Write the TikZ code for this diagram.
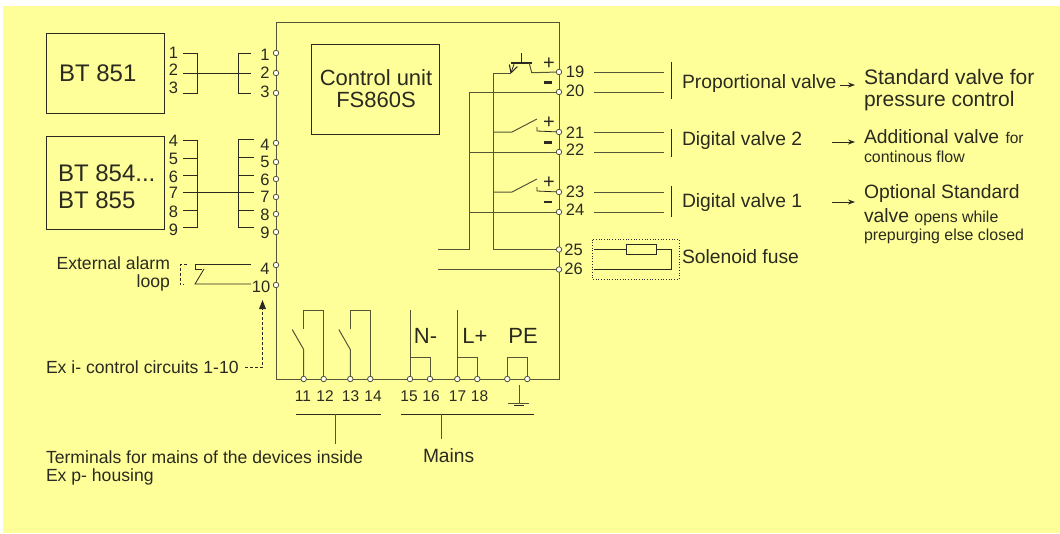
\documentclass[tikz,border=0pt]{standalone}
\usepackage{fontspec}
\setmainfont{Liberation Sans}
\usetikzlibrary{arrows.meta}
\definecolor{bg}{HTML}{FFFF99}
\definecolor{ink}{HTML}{2A2A20}
\definecolor{wire}{HTML}{55553A}
\newcommand{\fs}[1]{\fontsize{#1}{#1}\selectfont}
\tikzset{
  x=1pt,y=-1pt,
  every node/.style={text=ink,inner sep=0pt,outer sep=0pt},
  thin wire/.style={draw=ink,line width=0.8pt},
  wirel/.style={draw=wire,line width=1pt},
  term/.style={circle,draw=wire,fill=white,line width=0.8pt,minimum size=5.5pt},
  box/.style={draw=ink,line width=0.9pt,fill=none},
  num/.style={font=\fs{16.5}},
  mid/.style={font=\fs{19.3},anchor=west},
  std/.style={font=\fs{17.6},anchor=west},
  arr/.style={draw=ink,line width=0.8pt,-{Stealth[length=7pt,width=5pt]}},
}
\begin{document}
\begin{tikzpicture}
\useasboundingbox (0,0) rectangle (1060,533);
\fill[bg] (3,6) rectangle (1060,533);
% main frame
\coordinate (fTL) at (276,22); \coordinate (fTR) at (559,22);
\coordinate (fBR) at (559,379); \coordinate (fBL) at (276,379);
\draw[wirel] (fTL) -- (fTR) -- (fBR) -- (fBL) -- cycle;
% boxes
\node[box,minimum width=118pt,minimum height=80pt] (bta) at (105,73) {};
\node[box,minimum width=118pt,minimum height=93pt] (btb) at (105,182.5) {};
\node[box,minimum width=128pt,minimum height=90pt] (cu) at (375,89) {};
\node[font=\fs{24},anchor=west] (ta) at (59,73) {BT 851};
\node[font=\fs{24},anchor=west] (tb) at (58,173) {BT 854...};
\node[font=\fs{24},anchor=west] (tc) at (58,200) {BT 855};
\node[font=\fs{22},anchor=center] (td) at (376,78) {Control unit};
\node[font=\fs{22},anchor=center] (te) at (376,100) {FS860S};
% left terminals
\foreach \n/\y in {a/53,b/73,c/93,d/143,e/162,f/179,g/197,h/214,i/232,j/265,k/285}
  \node[term] (L\n) at (276,\y) {};
% bottom terminals
\foreach \n/\x in {a/303.7,b/323.7,c/350.3,d/370.3,e/410,f/430,g/457.3,h/477.3,i/507.3,j/527.3}
  \coordinate (B\n) at (\x,379);
% right terminals
\foreach \n/\y in {a/72,b/92,c/132,d/152,e/192,f/212,g/249.5,h/269.5}
  \coordinate (R\n) at (559,\y);
% left labels
\foreach \t/\y in {1/53,2/70,3/88,4/141,5/159,6/177,7/193,8/212,9/230}
  \node[num] (ln\t) at (173.5,\y) {\t};
\foreach \t/\y in {1/55,2/73,3/92,4/145,5/162,6/180,7/197,8/215,9/233}
  \node[num] (rn\t) at (265,\y) {\t};
\node[num] (rn4b) at (265,269) {4};
\node[num] (rn10) at (261,286.5) {10};
% BT851 wiring
\draw[thin wire] (183,53) -- (197,53) -- (197,93) -- (183,93);
\draw[thin wire] (251,53) -- (238,53) -- (238,93) -- (251,93);
\draw[thin wire] (183,73) -- (251,73);
% BT854 wiring
\draw[thin wire] (183,140) -- (197,140) -- (197,227) -- (183,227);
\draw[thin wire] (254,139) -- (238,139) -- (238,227) -- (254,227);
\foreach \y in {158,175,210} \draw[thin wire] (183,\y) -- (197,\y);
\foreach \y in {157,175,210} \draw[thin wire] (238,\y) -- (254,\y);
\draw[thin wire] (183,192.5) -- (254,192.5);
% alarm loop
\node[std,anchor=east] (ea) at (170,263) {External alarm};
\node[std,anchor=east] (eb) at (170,283) {loop};
\coordinate (al1) at (251,264.5); \coordinate (al2) at (251,284);
\draw[thin wire] (al1) -- (195,264.5) -- (195,269.5) -- (202,269.5);
\draw[thin wire] (al2) -- (195,284) -- (204,269);
\draw[thin wire,densely dashed,line width=0.6pt] (187,264.5) -- (180,264.5) -- (180,284.5) -- (184,284.5);
% Ex i
\node[std] (exi) at (46,367) {Ex i- control circuits 1-10};
\coordinate (exs) at (245,367.5); \coordinate (exc) at (262.5,367.5); \coordinate (exe) at (262.5,300);
\draw[thin wire,densely dashed,line width=0.7pt] (exs) -- (exc) -- (262.5,308);
\fill[ink] (exe) -- (266,309) -- (259,309) -- cycle;
% relays
\foreach \p/\q in {Ba/Bb,Bc/Bd}{
  \draw[wirel] (\p) -- ++(0,-29.5) -- ++(-11.5,-20);
  \draw[wirel] (\p) ++(0,-50) -- ++(0,-19) -- (\q |- 0,310) -- (\q);
}
% mains
\draw[wirel] (Be) -- ++(0,-69);
\draw[wirel] (Be) ++(0,-22) -- ++(20,0) -- (Bf);
\draw[wirel] (Bg) -- ++(0,-69);
\draw[wirel] (Bg) ++(0,-22) -- ++(20,0) -- (Bh);
\draw[wirel] (Bi) -- ++(0,-22) -- ++(20,0) -- (Bj);
\node[font=\fs{22},anchor=center] (tn) at (425.5,336) {N-};
\node[font=\fs{22},anchor=center] (tl) at (475,336) {L+};
\node[font=\fs{22},anchor=center] (tp) at (523,336) {PE};
\foreach \t/\x in {11/303,12/325,13/350.5,14/373,15/409,16/431,17/457.5,18/479.5}
  \node[num,font=\fs{15.5}] (bn\t) at (\x,396) {\t};
\foreach \n in {a,b,c,d,e,f,g,h,i,j} \node[term] (BB\n) at (B\n) {};
% ground
\coordinate (g0) at (519,385); \coordinate (g1) at (519,403);
\draw[wirel] (g0) -- (g1);
\draw[wirel] (508,403) -- (529,403);
\draw[thin wire] (514,405.5) -- (524,405.5);
% group bars
\draw[thin wire] (296,414) -- (381,414);
\draw[thin wire] (401,414) -- (534,414);
\draw[wirel] (335,414) -- (335,444);
\draw[wirel] (441,414) -- (441,439);
\node[std] (tm) at (46,457) {Terminals for mains of the devices inside};
\node[std] (tx) at (46,477) {Ex p- housing};
\node[font=\fs{19.2},anchor=west] (mn) at (423,456) {Mains};
% internal right wiring
\coordinate (va) at (493,73); \coordinate (vb) at (469,92);
\draw[wirel] (va) -- (493,249.5) -- (Rg);
\draw[wirel] (Rb) -- (vb) -- (469,249.5) -- (438,249.5);
\draw[wirel] (Rh) -- (438,269.5);
\draw[wirel] (Rd) -- (469,152);
\draw[wirel] (Rf) -- (469,212);
% transistor
\draw[wirel] (va) -- (511,73);
\draw[thin wire,line width=1.3pt] (511,63) -- (531.7,63);
\draw[thin wire] (521.7,53) -- (521.7,63);
\draw[thin wire] (514.3,63.3) -- (511,72.7);
\draw[thin wire,line width=1.1pt] (509.3,64.5) -- (511,72.7) -- (517.3,66.7);
\draw[wirel] (529.3,63.3) -- (531.7,72.7) -- (Ra);
% switches
\foreach \y/\r in {132/Rc,192/Re}{
  \draw[wirel] (493,\y) -- (512,\y) -- (537,\y-13);
  \draw[thin wire] (537,\y-5) -- (537,\y-1) -- (\r);
}
\foreach \y in {64,123,183} \node[font=\fs{20}] (pl\y) at (549,\y) {+};
\foreach \y in {82.5,142.5,202} \fill[ink] (543.5,\y-1.2) rectangle (552,\y+1.2);
\foreach \n in {a,b,c,d,e,f,g,h} \node[term] (RR\n) at (R\n) {};
\foreach \t/\y in {19/72,20/91,21/133,22/150,23/192,24/210}
  \node[num] (rt\t) at (575,\y) {\t};
\node[num] (rt25) at (573.5,250) {25};
\node[num] (rt26) at (573.5,268.5) {26};
\foreach \y in {72,92,132,152,192,212} \draw[wirel] (594,\y) -- (664,\y);
\draw[thin wire] (671,62) -- (671,99);
\draw[thin wire] (671,129) -- (671,157);
\draw[thin wire] (671,186) -- (671,216.5);
% fuse
\draw[ink,dotted,line width=0.7pt] (592,239.5) rectangle (679,279);
\node[box,minimum width=30pt,minimum height=10pt,fill=bg] (fz) at (641.5,249.5) {};
\draw[thin wire] (594,249.5) -- (fz.west);
\draw[thin wire] (fz.east) -- (671,249.5) -- (671,269.5) -- (594,269.5);
% right text
\node[mid] (t1) at (682,84) {Proportional valve};
\node[mid] (t2) at (682,141) {Digital valve 2};
\node[mid] (t3) at (682,203) {Digital valve 1};
\node[mid] (t4) at (682,257) {Solenoid fuse};
\coordinate (a1) at (840,85); \coordinate (a1e) at (855,85);
\coordinate (a2) at (832,142); \coordinate (a2e) at (855,142);
\coordinate (a3) at (832,202); \coordinate (a3e) at (855,202);
\draw[arr] (a1) -- (a1e); \draw[arr] (a2) -- (a2e); \draw[arr] (a3) -- (a3e);
\node[font=\fs{21},anchor=west] (s1) at (864,77) {Standard valve for};
\node[font=\fs{21},anchor=west] (s2) at (864,101) {pressure control};
\node[font=\fs{19.3},anchor=west] (s3) at (864,137) {Additional valve\hspace{1pt} {\fs{15.5}for}};
\node[font=\fs{15.9},anchor=west] (s4) at (864,157) {continous flow};
\node[font=\fs{19.3},anchor=west] (s5) at (864,194) {Optional Standard};
\node[font=\fs{19.3},anchor=west] (s6) at (864,217) {valve {\fs{15.9}opens while}};
\node[font=\fs{15.9},anchor=west] (s7) at (864,236) {prepurging else closed};
\end{tikzpicture}
\end{document}
